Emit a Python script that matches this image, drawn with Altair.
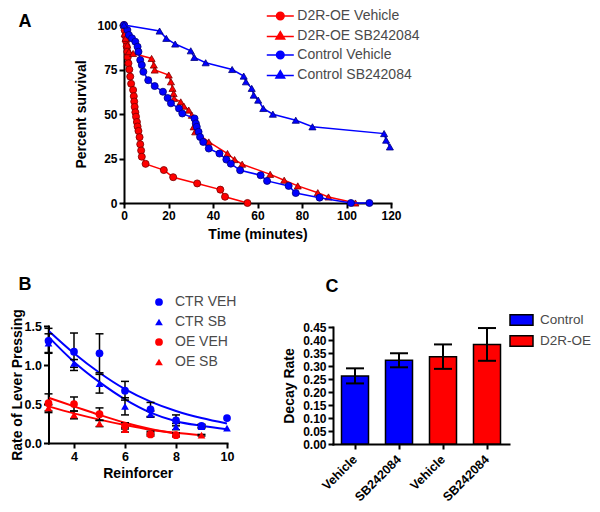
import altair as alt
import pandas as pd

FONT = "Liberation Sans"
BLUE = "#0000ff"
RED = "#ff0000"
DBLUE = "#00007a"
DRED = "#7a0000"
GRAY = "#4a4a4a"

# ---------------- Panel A : survival curves ----------------
a_names = ["D2R-OE Vehicle", "D2R-OE SB242084", "Control Vehicle", "Control SB242084"]

dv_t = [0, 0.3, 0.6, 0.9, 1.2, 1.5, 1.7, 2.0, 2.4, 2.8, 3.2, 4.1, 4.4, 4.6, 4.8, 5.1,
        5.4, 5.8, 6.1, 6.5, 7.0, 7.3, 7.7, 8.0, 9.7, 17.9, 22.1, 32.9, 43.3, 45.4, 55.5]
dv_s = [100, 97, 94, 91, 88, 85, 82, 78.5, 75, 71, 67, 63.5, 60, 57, 54, 51,
        48.5, 45.5, 43, 40.5, 37, 33, 29.5, 26, 22, 18.5, 14.5, 11, 7.5, 3.5, 0]

ds_t = [0, 0.3, 0.7, 1.5, 2.2, 4.1, 12.4, 13.4, 13.8, 20.1, 21.1, 21.8, 22.3, 22.5, 25.5,
        26.9, 29.1, 30.5, 31.3, 32.0, 38.1, 46.5, 49.7, 53.1, 65.7, 72.0, 78.1, 87.1, 91.9, 104]
ds_s = [100, 95, 92.5, 88.7, 85, 84, 81.2, 77.5, 74.7, 71.9, 68.1, 64.4, 61.5, 58.7, 56.8,
        54.4, 52.2, 49.3, 42.8, 40, 34.3, 27.8, 24.4, 21.8, 16.1, 12.8, 9.6, 5.8, 3.4, 0]

cv_t = [0, 1.5, 2.2, 3.6, 5.1, 6.1, 6.5, 7.3, 8.0, 8.7, 10.9, 13.8, 17.5, 19.6, 21.1, 24.7,
        26.2, 31.7, 32.3, 32.7, 33.5, 34.2, 35.6, 38.1, 42.9, 46.0, 48.0, 52.2, 61.4, 64.3,
        74.0, 77.2, 87.9, 102, 110.3]
cv_s = [100, 97.2, 94.4, 92.5, 90.6, 87.8, 85, 80.3, 77.5, 73.7, 69, 65.7, 62.5, 59, 56, 53.1,
        50.3, 47.5, 44.7, 42.8, 40, 37.1, 34.3, 30.6, 27.8, 24.4, 22.1, 18.4, 15.6, 12.4,
        9.6, 5.6, 3, 0, 0]

cs_t = [0, 16, 19, 23, 30, 31.6, 36.7, 48.6, 53.8, 54.8, 57.4, 58.3, 60.3, 62.6, 66.9,
        77.2, 84.7, 116.9, 117.8, 119.5]
cs_s = [100, 96.6, 92.5, 89.3, 85.5, 81.8, 78.8, 75, 71.3, 68.1, 64.4, 60.6, 57.8, 53.1, 49.9,
        46.5, 42.8, 39, 35.3, 31.5]

a_xticks = [0, 20, 40, 60, 80, 100, 120]
a_yticks = [0, 25, 50, 75, 100]

# ---------------- Panel B : lever pressing ----------------
b_names = ["CTR VEH", "CTR SB", "OE VEH", "OE SB"]
b_x_ctr = [3, 4, 5, 6, 7, 8, 9, 10]
b_ctr_veh = [1.31, 1.17, 1.15, 0.67, 0.43, 0.29, 0.22, 0.32]
b_ctr_veh_sem = [0.16, 0.24, 0.25, 0.12, 0.09, 0.07, 0.02, 0]
b_ctr_sb = [1.28, 1.02, 0.76, 0.47, 0.37, 0.21, 0.21, 0.19]
b_ctr_sb_sem = [0.12, 0.05, 0.12, 0.11, 0.04, 0.04, 0.02, 0]
b_x_oe_veh = [3, 4, 5, 6, 7, 8]
b_oe_veh = [0.51, 0.50, 0.37, 0.22, 0.11, 0.10]
b_oe_veh_sem = [0.12, 0.09, 0.08, 0.04, 0.02, 0.02]
b_x_oe_sb = [3, 4, 5, 6, 7, 8, 9]
b_oe_sb = [0.45, 0.36, 0.25, 0.17, 0.13, 0.11, 0.10]
b_oe_sb_sem = [0.04, 0.05, 0.04, 0.03, 0.02, 0.02, 0.01]

# fitted decay curves, read at each reinforcer
b_fit_ctr_veh = [1.44, 1.15, 0.90, 0.69, 0.53, 0.41, 0.32, 0.25]
b_fit_ctr_sb = [1.36, 1.04, 0.78, 0.56, 0.39, 0.28, 0.22, 0.175]
b_fit_oe_veh = [0.58, 0.47, 0.36, 0.26, 0.18, 0.12]
b_fit_oe_sb = [0.47, 0.38, 0.30, 0.23, 0.17, 0.13, 0.10]

b_xticks = [4, 6, 8, 10]
b_yticks = [0.0, 0.5, 1.0, 1.5]

# ---------------- Panel C : decay rate ----------------
c_keys = ["cv", "cs", "ov", "os"]
c_labels = ["Vehicle", "SB242084", "Vehicle", "SB242084"]
c_groups = ["Control", "Control", "D2R-OE", "D2R-OE"]
c_values = [0.262, 0.322, 0.336, 0.383]
c_sem = [0.029, 0.027, 0.047, 0.063]
c_yticks = [0.00, 0.05, 0.10, 0.15, 0.20, 0.25, 0.30, 0.35, 0.40, 0.45]


def axis(**kw):
    base = dict(grid=False, domainColor="black", domainWidth=2, tickColor="black",
                tickWidth=2, tickSize=5, labelFont=FONT, labelFontSize=12,
                labelFontWeight="bold", labelColor="black", titleFont=FONT,
                titleFontSize=14, titleFontWeight="bold", titleColor="black",
                labelFlush=False, labelOverlap=False, labelPadding=2, domainCap="square")
    base.update(kw)
    return alt.Axis(**base)


def legend(**kw):
    base = dict(title=None, orient="none", labelFont=FONT, labelFontSize=14,
                labelColor=GRAY, padding=0)
    base.update(kw)
    return alt.Legend(**base)


# ---------- Panel A chart ----------
a_x = alt.X("t:Q", scale=alt.Scale(domain=[0, 120], range=[116, 383], nice=False, zero=False),
            axis=axis(orient="bottom", offset=-301, values=a_xticks,
                      title="Time (minutes)", titlePadding=6))
a_y = alt.Y("s:Q", scale=alt.Scale(domain=[0, 100], range=[195, 17], nice=False, zero=False),
            axis=axis(orient="left", offset=-116, values=a_yticks,
                      title="Percent survival", titlePadding=8))

a_series = [
    (dv_t, dv_s, RED, DRED, "circle"),
    (ds_t, ds_s, RED, DRED, "triangle-up"),
    (cv_t, cv_s, BLUE, DBLUE, "circle"),
    (cs_t, cs_s, BLUE, DBLUE, "triangle-up"),
]
a_layers = []
for t, s, col, dcol, shp in a_series:
    df = pd.DataFrame({"t": t, "s": s})
    df["i"] = range(len(df))
    a_layers.append(alt.Chart(df).mark_line(color=col, strokeWidth=1.5)
                    .encode(x=a_x, y=a_y, order="i:Q"))
    a_layers.append(alt.Chart(df).mark_point(shape=shp, filled=True, size=50, fill=col,
                                             stroke=dcol, strokeWidth=0.8, opacity=1)
                    .encode(x=a_x, y=a_y))

CIRC_LINE = "M-3.55,0L3.55,0M-1,0A1,1,0,1,1,1,0A1,1,0,1,1,-1,0Z"
TRI_LINE = "M-3.55,0.25L3.55,0.25M0,-1L1.15,0.95L-1.15,0.95Z"
a_leg = legend(legendX=265.3, legendY=1, symbolSize=58, symbolStrokeWidth=1.5,
               labelOffset=10, rowPadding=5.5)
a_legend = alt.Chart(pd.DataFrame({"series": a_names})).mark_point(filled=True, opacity=1).encode(
    fill=alt.Fill("series:N", scale=alt.Scale(domain=a_names, range=[RED, RED, BLUE, BLUE]), legend=a_leg),
    stroke=alt.Stroke("series:N", scale=alt.Scale(domain=a_names, range=[RED, RED, BLUE, BLUE]), legend=a_leg),
    shape=alt.Shape("series:N", scale=alt.Scale(domain=a_names,
                                                range=[CIRC_LINE, TRI_LINE, CIRC_LINE, TRI_LINE]),
                    legend=a_leg),
).transform_filter("false")

panel_a = alt.layer(*a_layers, a_legend)

# ---------- Panel B chart ----------
b_sc_x = alt.Scale(domain=[3, 10], range=[40.5, 219], nice=False, zero=False)
b_sc_y = alt.Scale(domain=[0, 1.5], range=[435, 318], nice=False, zero=False)
b_ax_x = axis(orient="bottom", offset=-61, values=b_xticks, title="Reinforcer",
              titlePadding=4, labelFontSize=12.5)
b_ax_y = axis(orient="left", offset=-40.5, values=b_yticks, format=".1f",
              title="Rate of Lever Pressing", titlePadding=0, labelFontSize=12.5)

b_data = [
    (b_names[0], b_x_ctr, b_ctr_veh, b_ctr_veh_sem, b_fit_ctr_veh, BLUE),
    (b_names[1], b_x_ctr, b_ctr_sb, b_ctr_sb_sem, b_fit_ctr_sb, BLUE),
    (b_names[2], b_x_oe_veh, b_oe_veh, b_oe_veh_sem, b_fit_oe_veh, RED),
    (b_names[3], b_x_oe_sb, b_oe_sb, b_oe_sb_sem, b_fit_oe_sb, RED),
]
b_fit_layers, b_frames = [], []
for name, xs, ys, sem, fit, col in b_data:
    df = pd.DataFrame({"x": xs, "y": ys, "sem": sem, "fit": fit, "series": name})
    df["lo"] = df["y"] - df["sem"]
    df["hi"] = df["y"] + df["sem"]
    b_frames.append(df)
    b_fit_layers.append(alt.Chart(df).mark_line(color=col, strokeWidth=2, interpolate="monotone")
                        .encode(x=alt.X("x:Q", scale=b_sc_x, axis=b_ax_x),
                                y=alt.Y("fit:Q", scale=b_sc_y, axis=b_ax_y)))
b_all = pd.concat(b_frames, ignore_index=True)
b_err = b_all[b_all["sem"] > 0]
b_caps = pd.concat([b_err[["x"]].assign(c=b_err["lo"]), b_err[["x"]].assign(c=b_err["hi"])],
                   ignore_index=True)

b_rule = alt.Chart(b_err).mark_rule(color="black", strokeWidth=1.5).encode(
    x=alt.X("x:Q", scale=b_sc_x, axis=b_ax_x),
    y=alt.Y("lo:Q", scale=b_sc_y, axis=b_ax_y), y2="hi:Q")
b_cap = alt.Chart(b_caps).mark_tick(color="black", orient="horizontal", size=8,
                                    thickness=1.5, opacity=1).encode(
    x=alt.X("x:Q", scale=b_sc_x, axis=b_ax_x),
    y=alt.Y("c:Q", scale=b_sc_y, axis=b_ax_y))
b_leg = legend(legendX=144, legendY=287, symbolSize=60, labelOffset=9, rowPadding=6)
b_pts = alt.Chart(b_all).mark_point(filled=True, size=60, opacity=1).encode(
    x=alt.X("x:Q", scale=b_sc_x, axis=b_ax_x),
    y=alt.Y("y:Q", scale=b_sc_y, axis=b_ax_y),
    color=alt.Color("series:N", scale=alt.Scale(domain=b_names, range=[BLUE, BLUE, RED, RED]),
                    legend=b_leg),
    shape=alt.Shape("series:N", scale=alt.Scale(domain=b_names,
                                                range=["circle", "triangle-up", "circle", "triangle-up"]),
                    legend=b_leg),
)
panel_b = alt.layer(*b_fit_layers, b_rule, b_cap, b_pts)

# ---------- Panel C chart ----------
c_df = pd.DataFrame({"key": c_keys, "label": c_labels, "group": c_groups,
                     "v": c_values, "sem": c_sem})
c_df["lo"] = c_df["v"] - c_df["sem"]
c_df["hi"] = c_df["v"] + c_df["sem"]
c_caps = pd.concat([c_df[["key"]].assign(c=c_df["lo"]), c_df[["key"]].assign(c=c_df["hi"])],
                   ignore_index=True)
lab_map = "{" + ",".join(f"'{k}':'{l}'" for k, l in zip(c_keys, c_labels)) + "}"
c_sc_x = alt.Scale(domain=c_keys, range=[325, 501], paddingInner=0.386, paddingOuter=0.193)
c_sc_y = alt.Scale(domain=[0, 0.45], range=[436, 319], nice=False, zero=False)
c_ax_x = axis(orient="bottom", offset=-60, title=None, labelAngle=-45, labelAlign="right",
              labelBaseline="middle", labelFontSize=12.5,
              labelExpr=lab_map + "[datum.value]", labelPadding=8)
c_ax_y = axis(orient="left", offset=-325, values=c_yticks, format=".2f",
              title="Decay Rate", titlePadding=6, labelFontSize=12)
c_leg = legend(legendX=501, legendY=299.5, symbolSize=529, labelOffset=6, rowPadding=0,
               labelFontSize=13.5, symbolType="M-1,-0.45H1V0.45H-1Z",
               symbolStrokeColor="black", symbolStrokeWidth=1.5)
c_bars = alt.Chart(c_df).mark_bar(stroke="black", strokeWidth=1.5).encode(
    x=alt.X("key:N", scale=c_sc_x, axis=c_ax_x, sort=c_keys),
    y=alt.Y("v:Q", scale=c_sc_y, axis=c_ax_y),
    fill=alt.Fill("group:N", scale=alt.Scale(domain=["Control", "D2R-OE"], range=[BLUE, RED]),
                  legend=c_leg),
)
c_rule = alt.Chart(c_df).mark_rule(color="black", strokeWidth=2).encode(
    x=alt.X("key:N", scale=c_sc_x, axis=c_ax_x, sort=c_keys),
    y=alt.Y("lo:Q", scale=c_sc_y, axis=c_ax_y), y2="hi:Q")
c_cap = alt.Chart(c_caps).mark_tick(color="black", orient="horizontal", size=18,
                                    thickness=2, opacity=1).encode(
    x=alt.X("key:N", scale=c_sc_x, axis=c_ax_x, sort=c_keys),
    y=alt.Y("c:Q", scale=c_sc_y, axis=c_ax_y))
panel_c = alt.layer(c_bars, c_rule, c_cap)


# ---------- panel letters ----------
def letter(ch, x, y):
    return alt.Chart(pd.DataFrame({"l": [ch]})).mark_text(
        font=FONT, fontSize=18, fontWeight="bold", color="black",
        align="center", baseline="middle").encode(x=alt.value(x), y=alt.value(y), text="l:N")


chart = alt.layer(
    panel_a, panel_b, panel_c,
    letter("A", 17, 14), letter("B", 17, 277), letter("C", 324, 279),
).resolve_scale(
    x="independent", y="independent", color="independent", fill="independent",
    stroke="independent", shape="independent",
).resolve_legend(
    color="independent", fill="independent", stroke="independent", shape="independent",
).properties(
    width=584, height=496, autosize=alt.AutoSizeParams(type="none"), padding=0,
).configure_view(stroke=None)

chart.save("out.html", embed_options={"renderer": "svg", "actions": False})
